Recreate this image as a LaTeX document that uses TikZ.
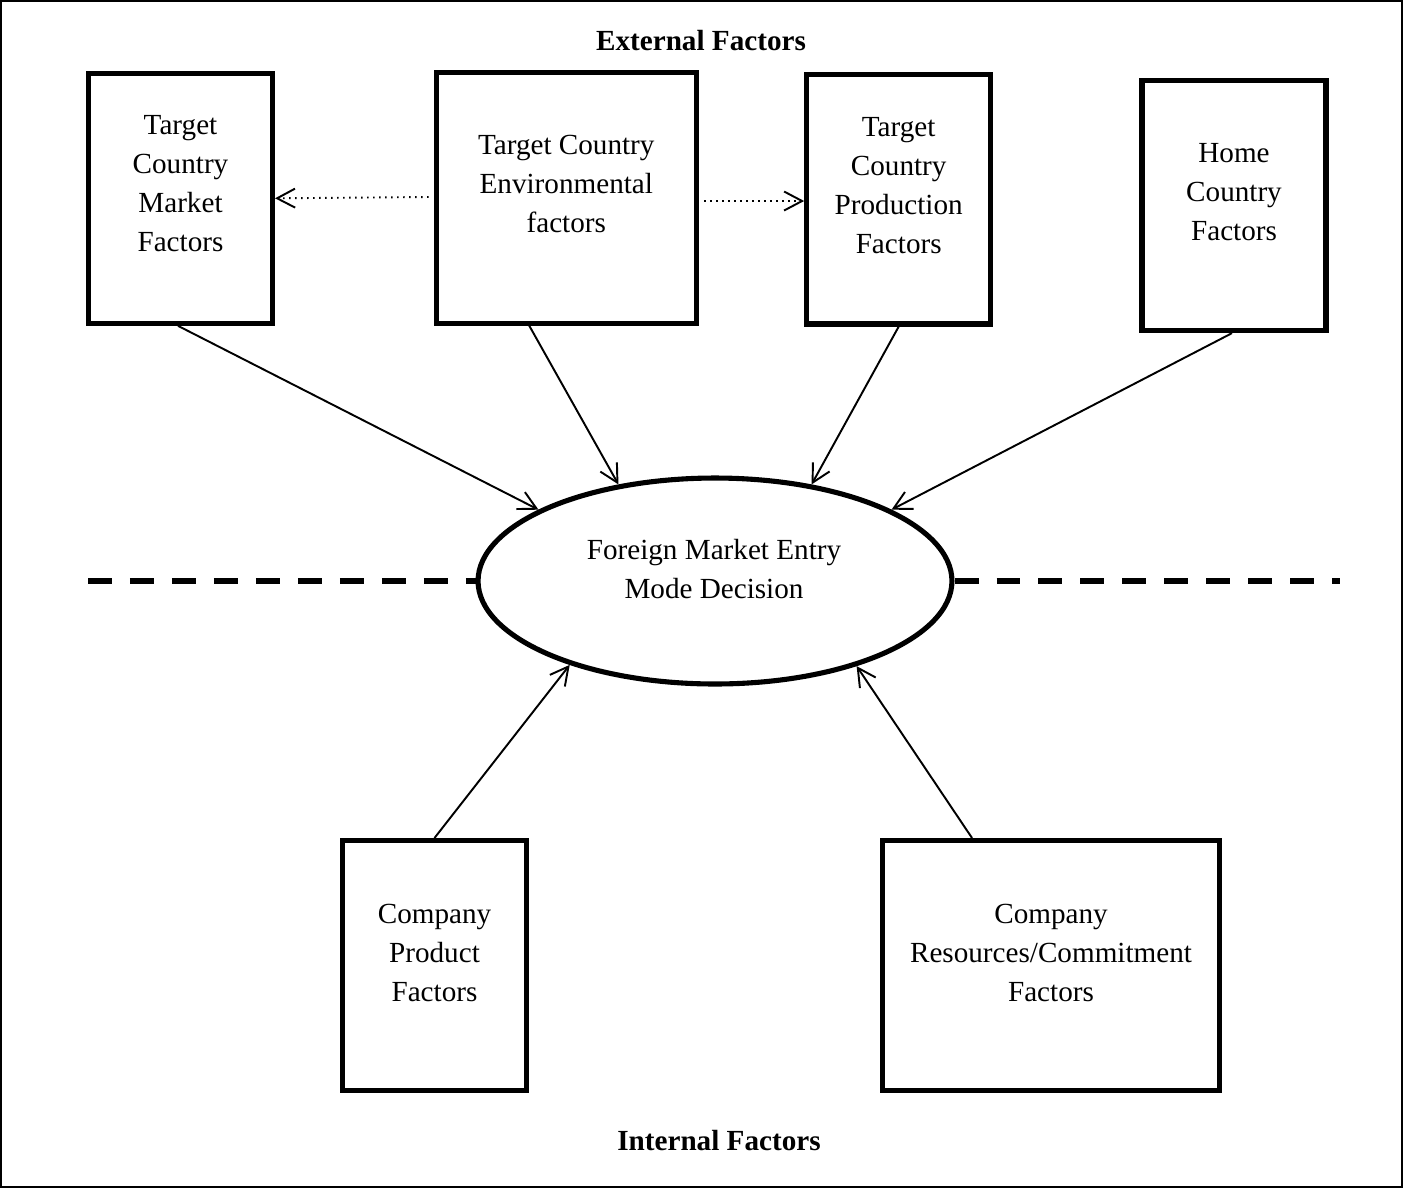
\documentclass[tikz,border=0pt]{standalone}
\usepackage{fontspec}
\setmainfont{Liberation Serif}
\usetikzlibrary{arrows.meta,shapes.geometric}
\begin{document}
\begin{tikzpicture}[x=0.02cm,y=-0.02cm,
  factorbox/.style={draw,line width=2.9pt,minimum width=#1,inner sep=0pt},
  factorbox/.default=3.68cm,
  lbl/.style={align=center,font=\fontsize{16.6pt}{22.2pt}\selectfont},
  head/.style={font=\fontsize{16.6pt}{22.2pt}\selectfont\bfseries},
  tip/.style={-{Straight Barb[length=3.6mm,width=3.8mm,line width=1.1pt]}},
  influence/.style={line width=1.1pt,tip},
  spill/.style={line width=1.1pt,dash pattern=on 0.03cm off 0.09cm,tip},
  divider/.style={line width=3.4pt,dash pattern=on 0.48cm off 0.36cm}]
\useasboundingbox (0,0) rectangle (1403,1188);
\draw[line width=1pt] (1,1) rectangle (1402,1187);

% headings
\node[head] (ext) at (701,41) {External Factors};
\node[head] (int) at (719,1141) {Internal Factors};

% external factor boxes
\node[factorbox,minimum height=5cm] (tcm) at (180.5,198.3) {};
\node[factorbox=5.21cm,minimum height=5.01cm] (tce) at (566.3,198) {};
\node[factorbox,minimum height=4.99cm] (tcp) at (898.7,199.3) {};
\node[factorbox,minimum height=5cm] (hcf) at (1234,205.6) {};

\node[lbl] (tcmt) at (180.5,184) {Target\\Country\\Market\\Factors};
\node[lbl] (tcet) at (566.3,184) {Target Country\\Environmental\\factors};
\node[lbl] (tcpt) at (898.7,185.5) {Target\\Country\\Production\\Factors};
\node[lbl] (hcft) at (1234,192) {Home\\Country\\Factors};

% internal factor boxes
\node[factorbox,minimum height=5cm] (cpf) at (434.5,965.5) {};
\node[factorbox=6.74cm,minimum height=5cm] (crc) at (1051,965.5) {};

\node[lbl] (cpft) at (434.5,953) {Company\\Product\\Factors};
\node[lbl] (crct) at (1051,953) {Company\\Resources/Commitment\\Factors};

% central decision
\node[draw,ellipse,line width=2.9pt,minimum width=9.48cm,minimum height=4.12cm,inner sep=0pt]
  (dec) at (715,581) {};
\node[lbl] (dect) at (714,569) {Foreign Market Entry\\Mode Decision};

% dividing line between external and internal factors
\coordinate (dl) at (88,581);
\coordinate (dr) at (1340,581);
\draw[divider] (dl) -- (dec.west);
\draw[divider] (dec.east) -- (dr);

% spill-over from the environmental factors
\draw[spill] (tce.west) ++(-5,-1) coordinate (s1) (s1) -- (tcm.east);
\draw[spill] (tce.east) ++(5,3) coordinate (s2) (s2) -- (tcp.west |- s2);

% influences on the decision
\draw[influence] ([xshift=-0.05cm]tcm.south) -- (dec.158);
\draw[influence] ([xshift=-0.74cm]tce.south) -- (dec.135);
\draw[influence] (tcp.south) -- (dec.45);
\draw[influence] ([xshift=-0.04cm]hcf.south) -- (dec.22);
\draw[influence] (cpf.north) -- (dec.210);
\draw[influence] ([xshift=-1.58cm]crc.north) -- (dec.329);
\end{tikzpicture}
\end{document}
